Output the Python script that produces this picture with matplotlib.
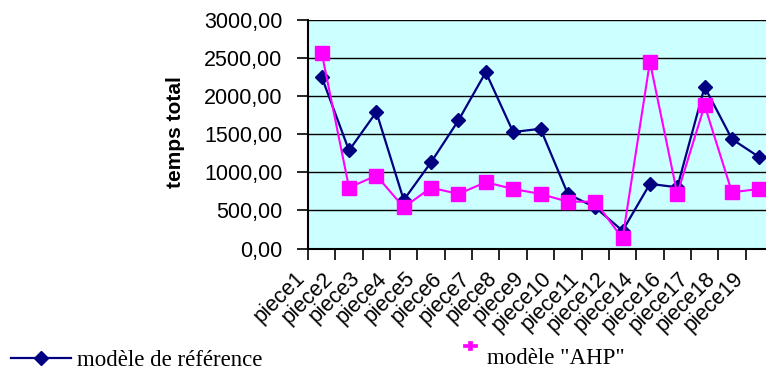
import numpy as np
import matplotlib
matplotlib.use("Agg")
import matplotlib.pyplot as plt
import matplotlib.transforms as mtransforms
from matplotlib.lines import Line2D
from matplotlib.path import Path
from matplotlib.ticker import FuncFormatter

# données
pieces = ["piece1", "piece2", "piece3", "piece4", "piece5", "piece6", "piece7",
          "piece8", "piece9", "piece10", "piece11", "piece12", "piece14",
          "piece16", "piece17", "piece18", "piece19"]
modele_reference = [2253, 1287, 1792, 637, 1133, 1682, 2315, 1529, 1572,
                    716, 540, 233, 848, 804, 2122, 1436, 1199]
modele_ahp = [2570, 799, 958, 540, 799, 716, 870, 782, 716,
              615, 615, 132, 2451, 716, 1880, 738, 782]
y_ticks = [0, 500, 1000, 1500, 2000, 2500, 3000]

W, H = 766, 374
fig = plt.figure(figsize=(W / 100, H / 100), dpi=100)
ax = fig.add_axes([308 / W, 125.5 / H, 465 / W, 228.5 / H])
ax.set_facecolor("#CCFFFF")

# lignes de grille horizontales
for yv in y_ticks:
    ax.axhline(yv, color="black", lw=1.0, zorder=1)

ref_line, = ax.plot(pieces, modele_reference, color="#000080", lw=1.6,
                    marker="D", markersize=7, markerfacecolor="#000080",
                    markeredgecolor="#000080", zorder=3)
ax.plot(pieces, modele_ahp, color="#FF00FF", lw=1.5, marker="s", markersize=10,
        markerfacecolor="#FF00FF", markeredgecolor="#FF00FF", zorder=4)

ax.set_xlim(-0.5, len(pieces) - 0.5)
ax.set_ylim(0, 3000)
ax.set_yticks(y_ticks)
ax.yaxis.set_major_formatter(FuncFormatter(lambda v, p: f"{v:.2f}".replace(".", ",")))

for s in ["top", "right"]:
    ax.spines[s].set_visible(False)
ax.spines["left"].set_linewidth(1.5)
ax.spines["bottom"].set_linewidth(1.5)

ax.tick_params(axis="y", direction="out", length=8, width=1.2, pad=10.5,
               labelsize=15.5)
ax.tick_params(axis="x", which="major", length=0, pad=14, labelsize=15.5)
ax.set_xticks(np.arange(-0.5, len(pieces), 1), minor=True)
ax.tick_params(axis="x", which="minor", direction="out", length=8, width=1.2)

shift = mtransforms.ScaledTranslation(-0.12, 0, fig.dpi_scale_trans)
for lab in ax.get_xticklabels():
    lab.set_rotation(45)
    lab.set_ha("right")
    lab.set_va("top")
    lab.set_transform(lab.get_transform() + shift)

for lab in ax.get_xticklabels() + ax.get_yticklabels():
    lab.set_fontfamily("Liberation Sans")

ax.set_ylabel("temps total", fontsize=15, fontweight="bold",
              fontfamily="Liberation Sans")
ax.yaxis.set_label_coords(-0.265, 0.51)

# légendes en bas
leg1 = fig.legend([ref_line], ["modèle de référence"], loc="center left",
                  bbox_to_anchor=(11 / W, 1 - 360 / H), frameon=False,
                  borderpad=0, borderaxespad=0, handlelength=2.6,
                  handletextpad=0.28, prop={"family": "Liberation Serif", "size": 16.5})

# petit signe "+" rose, un peu au-dessus du centre du texte
plus_verts = [(-7, 12.5), (-2, 12.5), (-2, 15.5), (2, 15.5), (2, 12.5), (7, 12.5),
              (7, 9.5), (2, 9.5), (2, 6.5), (-2, 6.5), (-2, 9.5), (-7, 9.5), (-7, 12.5)]
plus_path = Path(plus_verts, closed=True)
ahp_handle = Line2D([], [], linestyle="none", marker=plus_path, markersize=22.3,
                    markerfacecolor="#FF00FF", markeredgecolor="#FF00FF",
                    markeredgewidth=0.5)
leg2 = fig.legend([ahp_handle], ['modèle "AHP"'], loc="center left",
                  bbox_to_anchor=(459 / W, 1 - 358 / H), frameon=False,
                  borderpad=0, borderaxespad=0, handlelength=1.0,
                  handletextpad=0.2, prop={"family": "Liberation Serif", "size": 16.5})

fig.savefig("out.png", dpi=100)
